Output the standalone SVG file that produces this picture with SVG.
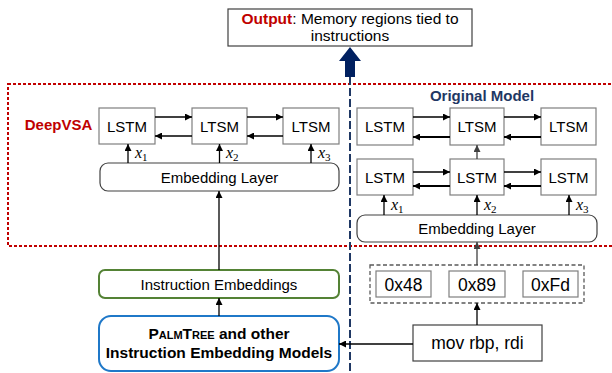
<svg xmlns="http://www.w3.org/2000/svg" width="612" height="373" viewBox="0 0 612 373">
  <defs>
    <marker id="ah" viewBox="0 0 10 10" refX="10" refY="5" markerWidth="7" markerHeight="7" markerUnits="userSpaceOnUse" orient="auto">
      <path d="M0,0 L10,5 L0,10 z" fill="#000"/>
    </marker>
    <marker id="ahg" viewBox="0 0 10 10" refX="10" refY="5" markerWidth="7" markerHeight="7" markerUnits="userSpaceOnUse" orient="auto">
      <path d="M0,0 L10,5 L0,10 z" fill="#404040"/>
    </marker>
    <style>
      .box { fill: #fff; stroke: #7f7f7f; stroke-width: 1.2; }
      .dbox { fill: #fff; stroke: #404040; stroke-width: 1.2; }
      .t { font-family: "Liberation Sans", Arial, sans-serif; font-size: 15px; fill: #000; text-anchor: middle; }
      .tb { font-family: "Liberation Sans", Arial, sans-serif; font-weight: bold; font-size: 15px; text-anchor: middle; }
      .big { font-size: 17.5px; }
      .xv { font-family: "Liberation Serif", "Times New Roman", serif; font-style: italic; font-size: 16px; fill: #000; }
      .sub { font-style: normal; font-size: 11px; }
      .ln { fill: none; stroke: #000; stroke-width: 1.3; marker-end: url(#ah); }
      .lnb { fill: none; stroke: #000; stroke-width: 1.8; marker-end: url(#ah); }
      .lng { fill: none; stroke: #404040; stroke-width: 1.3; marker-end: url(#ahg); }
    </style>
  </defs>

  <!-- region outlines -->
  <rect x="8" y="84" width="606" height="162" fill="none" stroke="#c00000" stroke-width="2" stroke-dasharray="3,2"/>
  <line x1="350" y1="77" x2="350" y2="373" stroke="#1f3864" stroke-width="2" stroke-dasharray="8,3"/>

  <!-- output -->
  <g id="output">
    <rect x="228" y="9" width="244" height="37" class="dbox"/>
    <text x="350" y="24" class="t" style="font-size:15.5px"><tspan font-weight="bold" fill="#c00000">Output</tspan>: Memory regions tied to</text>
    <text x="350" y="41" class="t" style="font-size:15.5px">instructions</text>
  </g>
  <path id="output-arrow" d="M345,77 L345,61 L339,61 L350,47 L361,61 L355,61 L355,77 z" fill="#002060"/>

  <!-- labels -->
  <text id="deepvsa-label" x="58.5" y="130" class="tb" fill="#c00000">DeepVSA</text>
  <text id="original-label" x="482" y="101" class="tb" fill="#1f3864">Original Model</text>

  <!-- DeepVSA side -->
  <g id="dv-lstm1"><rect x="99" y="108" width="56" height="36" class="box"/><text x="127" y="131.5" class="t">LSTM</text></g>
  <g id="dv-ltsm2"><rect x="192" y="108" width="55" height="36" class="box"/><text x="219.5" y="131.5" class="t">LTSM</text></g>
  <g id="dv-ltsm3"><rect x="283" y="108" width="56" height="36" class="box"/><text x="311" y="131.5" class="t">LTSM</text></g>
  <g id="dv-embedding"><rect x="100" y="163" width="239" height="28" rx="8" class="dbox"/><text x="219.5" y="182.5" class="t">Embedding Layer</text></g>

  <!-- original model side -->
  <g id="om-top1"><rect x="357" y="108" width="56" height="37" class="box"/><text x="385" y="132" class="t">LSTM</text></g>
  <g id="om-top2"><rect x="450" y="108" width="54" height="37" class="box"/><text x="477" y="132" class="t">LTSM</text></g>
  <g id="om-top3"><rect x="541" y="108" width="55" height="37" class="box"/><text x="568.5" y="132" class="t">LTSM</text></g>
  <g id="om-bot1"><rect x="357" y="159" width="56" height="36" class="box"/><text x="385" y="182.5" class="t">LSTM</text></g>
  <g id="om-bot2"><rect x="450" y="159" width="54" height="36" class="box"/><text x="477" y="182.5" class="t">LSTM</text></g>
  <g id="om-bot3"><rect x="541" y="159" width="55" height="36" class="box"/><text x="568.5" y="182.5" class="t">LSTM</text></g>
  <g id="om-embedding"><rect x="357" y="215" width="240" height="27" rx="8" class="dbox"/><text x="477" y="234" class="t">Embedding Layer</text></g>

  <!-- byte encoding -->
  <g id="bytes">
    <rect x="370" y="265" width="214" height="38" fill="none" stroke="#595959" stroke-width="1.3" stroke-dasharray="4,2.5"/>
    <g id="b48"><rect x="376" y="271" width="55" height="26" class="box"/><text x="403.5" y="290.5" class="t big">0x48</text></g>
    <g id="b89"><rect x="449" y="271" width="56" height="26" class="box"/><text x="477" y="290.5" class="t big">0x89</text></g>
    <g id="bfd"><rect x="523" y="271" width="55" height="26" class="box"/><text x="550.5" y="290.5" class="t big">0xFd</text></g>
  </g>
  <g id="instruction"><rect x="413" y="325" width="129" height="36" class="dbox"/><text x="477.5" y="349" class="t big">mov rbp, rdi</text></g>

  <!-- embedding side -->
  <g id="instr-embeddings"><rect x="99" y="270" width="240" height="28" rx="6" fill="#fff" stroke="#548235" stroke-width="2"/><text x="219" y="289.5" class="t">Instruction Embeddings</text></g>
  <g id="palmtree">
    <rect x="99" y="316" width="240" height="55" rx="12" fill="#fff" stroke="#1f78c8" stroke-width="2"/>
    <text x="219" y="338.5" class="tb" style="font-size:15.5px"><tspan font-variant="small-caps">PalmTree</tspan> and other</text>
    <text x="219" y="357.5" class="tb" style="font-size:15.5px">Instruction Embedding Models</text>
  </g>

  <!-- input variables -->
  <g id="x-labels">
    <text x="135" y="158" class="xv">x<tspan class="sub" dy="3">1</tspan></text>
    <text x="226" y="158" class="xv">x<tspan class="sub" dy="3">2</tspan></text>
    <text x="318" y="158" class="xv">x<tspan class="sub" dy="3">3</tspan></text>
    <text x="391" y="210" class="xv">x<tspan class="sub" dy="3">1</tspan></text>
    <text x="484" y="210" class="xv">x<tspan class="sub" dy="3">2</tspan></text>
    <text x="576" y="210" class="xv">x<tspan class="sub" dy="3">3</tspan></text>
  </g>

  <g id="connectors">
    <!-- DeepVSA recurrent links -->
    <line x1="155" y1="117" x2="192" y2="117" class="ln"/>
    <line x1="192" y1="136" x2="155" y2="136" class="ln"/>
    <line x1="247" y1="117" x2="283" y2="117" class="ln"/>
    <line x1="283" y1="136" x2="247" y2="136" class="ln"/>
    <line x1="128" y1="163" x2="128" y2="144" class="ln"/>
    <line x1="219.5" y1="163" x2="219.5" y2="144" class="ln"/>
    <line x1="311" y1="163" x2="311" y2="144" class="ln"/>
    <line x1="219" y1="270" x2="219" y2="191" class="ln"/>
    <line x1="219" y1="316" x2="219" y2="298" class="ln"/>

    <!-- original model links -->
    <line x1="413" y1="117" x2="450" y2="117" class="ln"/>
    <line x1="450" y1="137" x2="413" y2="137" class="lnb"/>
    <line x1="504" y1="117" x2="541" y2="117" class="ln"/>
    <line x1="541" y1="137" x2="504" y2="137" class="lnb"/>
    <line x1="413" y1="172" x2="450" y2="172" class="ln"/>
    <line x1="450" y1="186" x2="413" y2="186" class="lnb"/>
    <line x1="504" y1="172" x2="541" y2="172" class="ln"/>
    <line x1="541" y1="186" x2="504" y2="186" class="lnb"/>
    <line x1="477" y1="159" x2="477" y2="145" class="lng"/>
    <line x1="384" y1="215" x2="384" y2="195" class="ln"/>
    <line x1="477" y1="215" x2="477" y2="195" class="ln"/>
    <line x1="569" y1="215" x2="569" y2="195" class="ln"/>
    <line x1="477" y1="265" x2="477" y2="242" class="lng"/>
    <line x1="477" y1="325" x2="477" y2="303" class="ln"/>
    <line x1="413" y1="344" x2="339" y2="344" class="ln"/>
  </g>
</svg>
